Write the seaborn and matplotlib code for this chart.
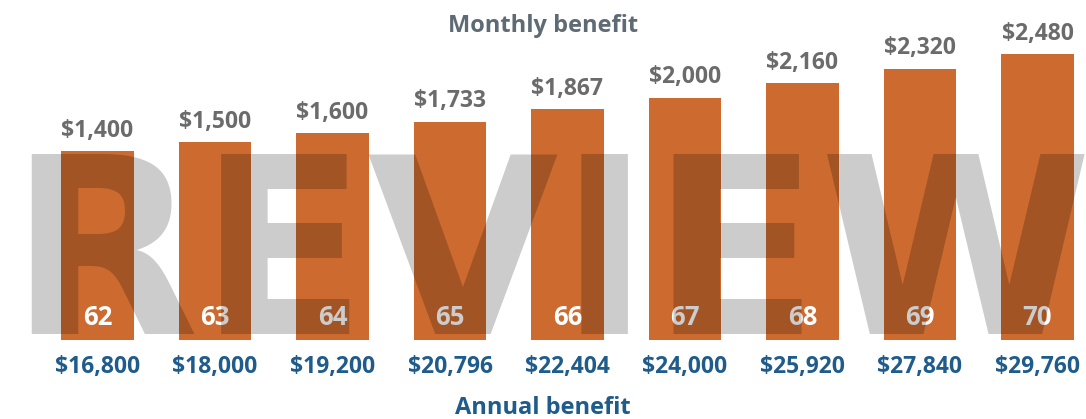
import pandas as pd
import matplotlib.pyplot as plt
import seaborn as sns

# dados
ages = [62, 63, 64, 65, 66, 67, 68, 69, 70]
monthly = [1400, 1500, 1600, 1733, 1867, 2000, 2160, 2320, 2480]
annual = [16800, 18000, 19200, 20796, 22404, 24000, 25920, 27840, 29760]
label_band = 700  # faixa de base onde fica a idade

orange = "#CC6A2F"
gray_lbl = "#6B6B6B"
gray_title = "#5F6B74"
blue = "#1F5C8B"

plt.rcParams["font.family"] = ["Open Sans", "DejaVu Sans"]

df = pd.DataFrame({"age": [str(a) for a in ages], "monthly": monthly, "annual": annual})
df["bar"] = df["monthly"] + label_band

fig = plt.figure(figsize=(10.86, 4.19), dpi=100)
ax = fig.add_axes([0, 79 / 419, 1, 340 / 419])

sns.barplot(data=df, x="age", y="bar", color=orange, saturation=1, width=0.62, ax=ax)

ax.set_xlim(-0.830, 8.413)
ax.set_ylim(0, 3786)

ax.bar_label(ax.containers[0], labels=[f"${v:,}" for v in monthly], padding=6,
             fontsize=16.5, fontweight="bold", color=gray_lbl)

for i, a in enumerate(ages):
    ax.annotate(str(a), xy=(i, 0), xytext=(0, 16), textcoords="offset points",
                ha="center", va="center", fontsize=18.5, fontweight="bold", color="white")

ax.set_xticks(range(len(ages)))
ax.set_xticklabels([f"${v:,}" for v in annual], fontsize=16.5, fontweight="bold", color=blue)
ax.tick_params(axis="x", length=0, pad=11)
ax.set_xlabel("Annual benefit", fontsize=17, fontweight="bold", color=blue, labelpad=12)
ax.set_ylabel("")
ax.set_yticks([])
ax.set_title("Monthly benefit", fontsize=17, fontweight="bold", color=gray_title, y=0.905, pad=0)
for s in ax.spines.values():
    s.set_visible(False)

# marca d'agua por cima de tudo
fig.text(8 / 1086, (419 - 334) / 419, "REVIEW", fontsize=178, fontweight="bold",
         family="DejaVu Sans", color="black", alpha=0.2, ha="left", va="baseline", zorder=10)

plt.savefig("out.png", dpi=100)
plt.close()
